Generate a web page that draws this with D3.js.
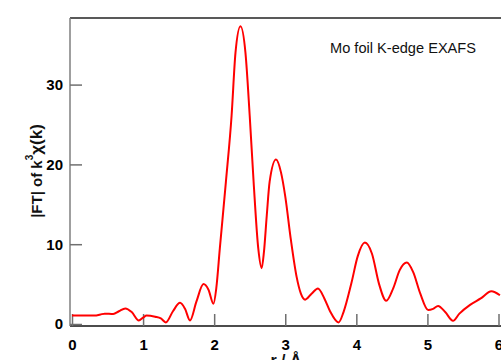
<!DOCTYPE html>
<html>
<head>
<meta charset="utf-8">
<script src="https://cdn.jsdelivr.net/npm/d3@7/dist/d3.min.js"></script>
<style>
  html, body { margin: 0; padding: 0; background: #fff; }
  svg { display: block; }
  .tick text { font-family: "Liberation Sans", Arial, sans-serif; font-weight: bold; font-size: 15px; fill: #000; }
</style>
</head>
<body>
<svg id="chart" width="501" height="360"></svg>
<script>
// Fourier transform magnitude of k^3-weighted EXAFS, Mo foil
const rValues = [
  0.00, 0.10, 0.20, 0.32, 0.40, 0.46, 0.58, 0.66, 0.75, 0.84,
  0.94, 1.00, 1.05, 1.17, 1.25, 1.32, 1.42, 1.52, 1.59, 1.66,
  1.75, 1.85, 1.92, 1.99, 2.03, 2.08, 2.165, 2.245, 2.30, 2.37,
  2.44, 2.50, 2.555, 2.62, 2.668, 2.70, 2.74, 2.78, 2.87, 2.94,
  3.00, 3.08, 3.16, 3.22, 3.28, 3.37, 3.46, 3.55, 3.63, 3.75,
  3.82, 3.93, 4.02, 4.12, 4.22, 4.32, 4.42, 4.52, 4.61, 4.71,
  4.80, 4.90, 5.01, 5.08, 5.15, 5.25, 5.36, 5.45, 5.60, 5.75,
  5.90, 6.02
];
const ftMagnitude = [
  1.05, 1.05, 1.05, 1.05, 1.20, 1.30, 1.25, 1.60, 1.95, 1.50,
  0.45, 0.80, 1.05, 0.90, 0.70, 0.20, 1.60, 2.65, 1.90, 0.45,
  2.80, 5.00, 4.30, 2.55, 4.50, 9.50, 17.8, 26.1, 34.0, 37.3,
  34.0, 26.1, 17.8, 9.50, 7.00, 9.00, 13.6, 17.8, 20.6, 19.0,
  16.0, 10.5, 5.90, 3.80, 3.05, 3.80, 4.45, 3.20, 1.60, 0.20,
  1.50, 5.10, 8.50, 10.2, 8.80, 5.00, 2.90, 4.50, 6.75, 7.70,
  6.50, 3.80, 1.75, 1.90, 2.25, 1.50, 0.40, 1.30, 2.40, 3.20,
  4.10, 3.60
];
const xTicks = [0, 1, 2, 3, 4, 5, 6];
const yTicks = [0, 10, 20, 30];
const titleText = "Mo foil K-edge EXAFS";

const svg = d3.select("#chart");
const spineX = 70, topY = 18, baseY = 326;

const x = d3.scaleLinear().domain([0, 6]).range([72, 498.5]);
const y = d3.scaleLinear().domain([0, 30]).range([324, 84.6]);

// frame lines
svg.append("line").attr("x1", spineX).attr("x2", 501).attr("y1", topY).attr("y2", topY)
  .attr("stroke", "#222").attr("stroke-width", 1.5);
svg.append("line").attr("x1", spineX).attr("x2", 501).attr("y1", baseY).attr("y2", baseY)
  .attr("stroke", "#111").attr("stroke-width", 1.5);
svg.append("line").attr("x1", spineX).attr("x2", spineX).attr("y1", topY).attr("y2", baseY)
  .attr("stroke", "#7f7f7f").attr("stroke-width", 1.5);

// axes with inward ticks
const intFmt = d3.format("d");
const yAxis = svg.append("g").attr("transform", `translate(${spineX},0)`)
  .call(d3.axisLeft(y).tickValues(yTicks).tickFormat(intFmt)
    .tickSizeInner(-12).tickSizeOuter(0).tickPadding(7));
const xAxis = svg.append("g").attr("transform", `translate(0,${baseY})`)
  .call(d3.axisBottom(x).tickValues(xTicks).tickFormat(intFmt)
    .tickSizeInner(-12).tickSizeOuter(0).tickPadding(13));
[yAxis, xAxis].forEach(g => {
  g.select(".domain").remove();
  g.selectAll(".tick line").attr("stroke", "#6f6f6f").attr("stroke-width", 1.5);
});

// data curve
const line = d3.line()
  .x((d, i) => x(rValues[i]))
  .y(d => y(d))
  .curve(d3.curveMonotoneX);
svg.append("path").datum(ftMagnitude)
  .attr("d", line)
  .attr("fill", "none")
  .attr("stroke", "#ff0000")
  .attr("stroke-width", 2);

// title
svg.append("text").attr("x", 330).attr("y", 53)
  .style("font-family", "'Liberation Sans', Arial, sans-serif")
  .style("font-size", "14.6px").attr("fill", "#111").text(titleText);

// y-axis label
const yl = svg.append("text")
  .attr("transform", "translate(42,171) rotate(-90)")
  .attr("text-anchor", "middle")
  .style("font-family", "'Liberation Sans', Arial, sans-serif")
  .style("font-weight", "bold").style("font-size", "15px").attr("fill", "#111");
yl.append("tspan").text("|FT| of k");
yl.append("tspan").attr("dy", -9).style("font-size", "10px").text("3");
yl.append("tspan").attr("dy", 9).style("font-size", "17px").text("χ(k)");

// x-axis label
svg.append("text").attr("x", 286).attr("y", 366).attr("text-anchor", "middle")
  .style("font-family", "'Liberation Sans', Arial, sans-serif")
  .style("font-weight", "bold").style("font-size", "16px").attr("fill", "#111")
  .text("r / Å");
</script>
</body>
</html>
